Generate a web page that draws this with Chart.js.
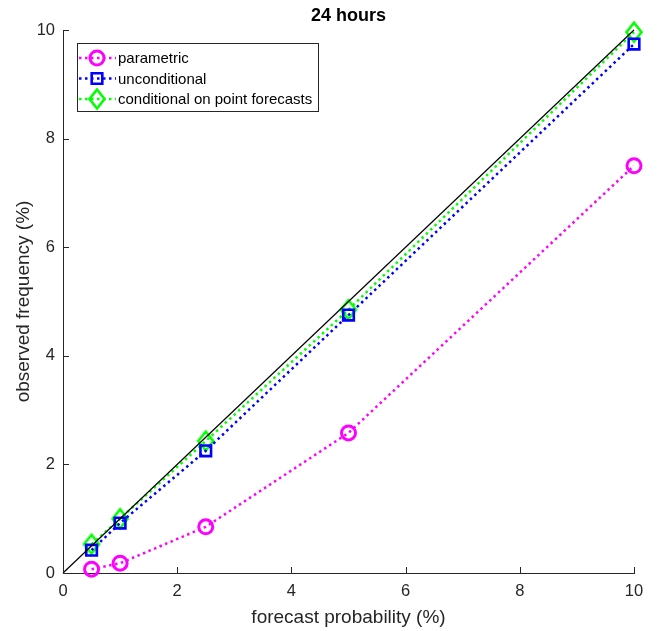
<!DOCTYPE html>
<html><head><meta charset="utf-8">
<script src="https://cdn.jsdelivr.net/npm/chart.js@4"></script>
<style>html,body{margin:0;padding:0;background:#fff}#wrap{width:658px;height:631px}</style>
</head><body><div id="wrap"><canvas id="c" width="658" height="631"></canvas></div>
<script>
const forecastProb = [0.5, 1, 2.5, 5, 10];
const parametric = [0.07, 0.18, 0.85, 2.58, 7.5];
const unconditional = [0.42, 0.92, 2.25, 4.75, 9.74];
const conditional = [0.53, 1.0, 2.43, 4.85, 9.96];
const diagonal = [[0, 0], [10, 10]];
const tickValues = [0, 2, 4, 6, 8, 10];
const titleText = '24 hours';
const xLabel = 'forecast probability (%)';
const yLabel = 'observed frequency (%)';
const seriesNames = ['parametric', 'unconditional', 'conditional on point forecasts'];

const pts = (ys) => forecastProb.map((x, i) => ({x, y: ys[i]}));
const FONT = 'Liberation Sans, Arial, Helvetica, sans-serif';
const AX = '#262626';

function diamondImg(color) {
  const c = document.createElement('canvas');
  c.width = 22; c.height = 26;
  const g = c.getContext('2d');
  g.strokeStyle = color; g.lineWidth = 2.6; g.lineJoin = 'miter';
  g.beginPath();
  g.moveTo(11, 3.5); g.lineTo(18.5, 13); g.lineTo(11, 22.5); g.lineTo(3.5, 13); g.closePath();
  g.stroke();
  return c;
}

const mk = (label, data, color, style, r, bw) => ({
  label, data, borderColor: color, backgroundColor: 'transparent',
  borderWidth: 2.5, borderDash: [2.5, 3.5], pointStyle: style, pointRadius: r,
  pointBorderWidth: bw, pointBorderColor: color, pointBackgroundColor: 'rgba(0,0,0,0)',
  showLine: true, clip: false, tension: 0
});

const ds = [
  {label: 'diag', data: diagonal.map(d => ({x: d[0], y: d[1]})), borderColor: '#000', borderWidth: 1.2,
   pointRadius: 0, showLine: true, clip: false},
  mk(seriesNames[0], pts(parametric), '#ff00ff', 'circle', 7, 3),
  mk(seriesNames[1], pts(unconditional), '#0000ff', 'rect', 7.5, 2.6),
  mk(seriesNames[2], pts(conditional), '#00ff00', diamondImg('#00ff00'), 10, 2.6)
];

const decor = {
  id: 'decor',
  afterDraw(chart) {
    const ctx = chart.ctx, xs = chart.scales.x, ys = chart.scales.y, ca = chart.chartArea;
    ctx.save();
    ctx.strokeStyle = AX; ctx.lineWidth = 1;
    tickValues.forEach(v => {
      const px = Math.round(xs.getPixelForValue(v)) + 0.5;
      ctx.beginPath(); ctx.moveTo(px, ca.bottom); ctx.lineTo(px, ca.bottom - 6); ctx.stroke();
      const py = Math.round(ys.getPixelForValue(v)) + 0.5;
      ctx.beginPath(); ctx.moveTo(ca.left, py); ctx.lineTo(ca.left + 6, py); ctx.stroke();
    });
    ctx.fillStyle = '#000'; ctx.font = 'bold 18px ' + FONT;
    ctx.textAlign = 'center'; ctx.textBaseline = 'middle';
    ctx.fillText(titleText, (ca.left + ca.right) / 2, 16);
    const bx = 77.5, by = 43.5, bw = 241, bh = 68;
    ctx.fillStyle = '#fff'; ctx.fillRect(bx, by, bw, bh);
    ctx.strokeStyle = AX; ctx.lineWidth = 1; ctx.strokeRect(bx, by, bw, bh);
    ctx.font = '15px ' + FONT; ctx.textAlign = 'left'; ctx.textBaseline = 'middle';
    [1, 2, 3].forEach((k, i) => {
      const d = ds[k];
      const y = 58 + i * 20.5;
      ctx.save();
      ctx.strokeStyle = d.borderColor; ctx.lineWidth = 2.5; ctx.setLineDash([2.5, 3.5]);
      ctx.beginPath(); ctx.moveTo(79, y); ctx.lineTo(116, y); ctx.stroke();
      ctx.restore();
      ctx.save();
      ctx.strokeStyle = d.borderColor; ctx.fillStyle = 'rgba(0,0,0,0)'; ctx.lineWidth = d.pointBorderWidth;
      Chart.helpers.drawPoint(ctx, {pointStyle: d.pointStyle, radius: d.pointRadius, borderWidth: d.pointBorderWidth}, 97, y);
      ctx.restore();
      ctx.fillStyle = '#000';
      ctx.fillText(d.label, 118, y + 1);
    });
    ctx.restore();
  }
};

new Chart(document.getElementById('c'), {
  type: 'scatter',
  data: {datasets: ds},
  options: {
    responsive: false, animation: false, devicePixelRatio: 1,
    layout: {padding: {top: 30, right: 24, left: 0, bottom: 0}},
    plugins: {legend: {display: false}, title: {display: false}, tooltip: {enabled: false}},
    scales: {
      x: {
        type: 'linear', min: 0, max: 10,
        afterFit: s => { s.height = 58; },
        afterBuildTicks: s => { s.ticks = tickValues.map(v => ({value: v})); },
        grid: {display: true, drawOnChartArea: false, drawTicks: false},
        border: {display: true, color: AX, width: 1},
        ticks: {color: AX, font: {family: FONT, size: 16.5}, padding: 9, maxRotation: 0},
        title: {display: true, text: xLabel, color: AX, font: {family: FONT, size: 19}, padding: {top: 0, bottom: 1.5}}
      },
      y: {
        type: 'linear', min: 0, max: 10,
        afterFit: s => { s.width = 63; },
        afterBuildTicks: s => { s.ticks = tickValues.map(v => ({value: v})); },
        grid: {display: true, drawOnChartArea: false, drawTicks: false},
        border: {display: true, color: AX, width: 1},
        ticks: {color: AX, font: {family: FONT, size: 16.5}, padding: 8},
        title: {display: true, text: yLabel, color: AX, font: {family: FONT, size: 19}, padding: {top: 12, bottom: 0}}
      }
    }
  },
  plugins: [decor]
});
</script></body></html>
